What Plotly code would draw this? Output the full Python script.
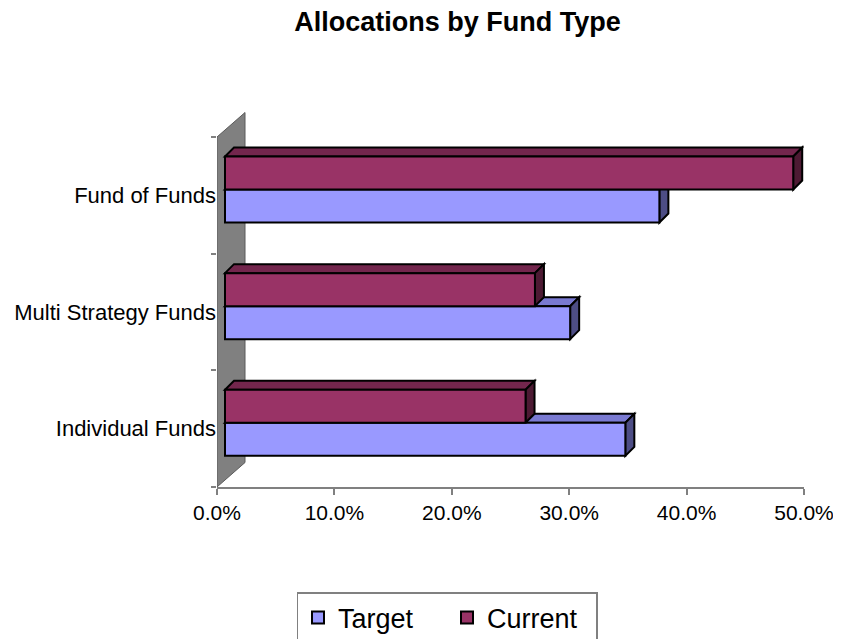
import plotly.graph_objects as go

# ---- data ----
categories = ["Individual Funds", "Multi Strategy Funds", "Fund of Funds"]
target = [0.341, 0.294, 0.370]
current = [0.256, 0.264, 0.484]
x_tick_vals = [0.0, 0.1, 0.2, 0.3, 0.4, 0.5]
series_names = ["Target", "Current"]
title_text = "Allocations by Fund Type"

# ---- styling / geometry (page pixels; page body has an 8px margin) ----
PAGE_W, PAGE_H = 841, 639
OFF = 8
W, H = PAGE_W - OFF, PAGE_H - OFF
X0PX, X1PX = 217 - OFF, 804 - OFF
Y0PX = 487 - OFF
PX_PER_CAT = 116.67
x_range = [0, 0.5]
y_range = [0, 3.3]
px_per_x = (X1PX - X0PX) / (x_range[1] - x_range[0])
top_px = Y0PX - y_range[1] * PX_PER_CAT

front_shift = 8 / px_per_x      # bar front plane offset from floor edge
bar_dx = 9 / px_per_x           # depth of bars (x)
bar_dy = 9 / PX_PER_CAT         # depth of bars (y)
wall_dx = 28 / px_per_x
wall_dy = 0.21
bar_w = 0.283
cur_off = 0.05
tgt_off = cur_off - bar_w

col = {
    "Target": {"front": "#9999FF", "top": "#7A7AD2", "side": "#4D4D85"},
    "Current": {"front": "#993366", "top": "#73264D", "side": "#4D1A33"},
}

centers = [i + 0.5 for i in range(len(categories))]

fig = go.Figure()
for name, vals, off in [(series_names[0], target, tgt_off), (series_names[1], current, cur_off)]:
    fig.add_trace(go.Bar(
        name=name, orientation="h", x=vals, y=centers,
        base=[front_shift] * len(vals), offset=off, width=bar_w,
        marker=dict(color=col[name]["front"], line=dict(color="black", width=2)),
        hoverinfo="skip",
    ))

shapes = []
# back wall
shapes.append(dict(
    type="path", xref="x", yref="y", layer="below",
    path=f"M 0,0 L 0,{len(categories)} L {wall_dx},{len(categories)+wall_dy} L {wall_dx},{wall_dy} Z",
    fillcolor="#808080", line=dict(color="#5a5a5a", width=1),
))

def faces(name, vals, off):
    out = []
    for c, v in zip(centers, vals):
        yb = c + off
        yt = yb + bar_w
        x0 = front_shift
        x1 = front_shift + v
        out.append(dict(
            type="path", xref="x", yref="y", layer="below",
            path=f"M {x0},{yt} L {x0+bar_dx},{yt+bar_dy} L {x1+bar_dx},{yt+bar_dy} L {x1},{yt} Z",
            fillcolor=col[name]["top"], line=dict(color="black", width=2),
        ))
        out.append(dict(
            type="path", xref="x", yref="y", layer="below",
            path=f"M {x1},{yb} L {x1},{yt} L {x1+bar_dx},{yt+bar_dy} L {x1+bar_dx},{yb+bar_dy} Z",
            fillcolor=col[name]["side"], line=dict(color="black", width=2),
        ))
    return out

shapes += faces("Target", target, tgt_off)
shapes += faces("Current", current, cur_off)

fig.update_layout(
    width=W, height=H, autosize=False,
    margin=dict(l=X0PX, r=W - X1PX, t=top_px, b=H - Y0PX, pad=0, autoexpand=False),
    paper_bgcolor="white", plot_bgcolor="white",
    barmode="overlay",
    font=dict(family="Liberation Sans, Arial, sans-serif", color="black"),
    title=dict(text="<b>" + title_text + "</b>", x=(457.5 - OFF) / W, xanchor="center",
               y=1 - 14 / H, yanchor="middle", yref="container",
               font=dict(size=27, color="black")),
    xaxis=dict(range=x_range, tickvals=x_tick_vals, tickformat=".1%",
               showgrid=False, zeroline=False, showline=True, linecolor="#808080",
               linewidth=1.5, ticks="outside", ticklen=6, tickcolor="#808080",
               tickwidth=1.5, tickfont=dict(size=21), automargin=False),
    yaxis=dict(range=y_range, tickvals=centers, ticktext=categories,
               showgrid=False, zeroline=False, showline=False, ticks="",
               tickfont=dict(size=22), automargin=False,
               minor=dict(tick0=0, dtick=1, ticks="outside", ticklen=5,
                          tickcolor="#808080", tickwidth=1.5, showgrid=False)),
    legend=dict(orientation="h", xref="container", x=(447 - OFF) / W, xanchor="center",
                yref="container", y=1 - (592 - OFF) / H, yanchor="top",
                bordercolor="#808080", borderwidth=1.5, entrywidth=104,
                font=dict(size=27), traceorder="normal"),
    shapes=shapes,
    showlegend=True,
)

fig.write_html("out.html")
